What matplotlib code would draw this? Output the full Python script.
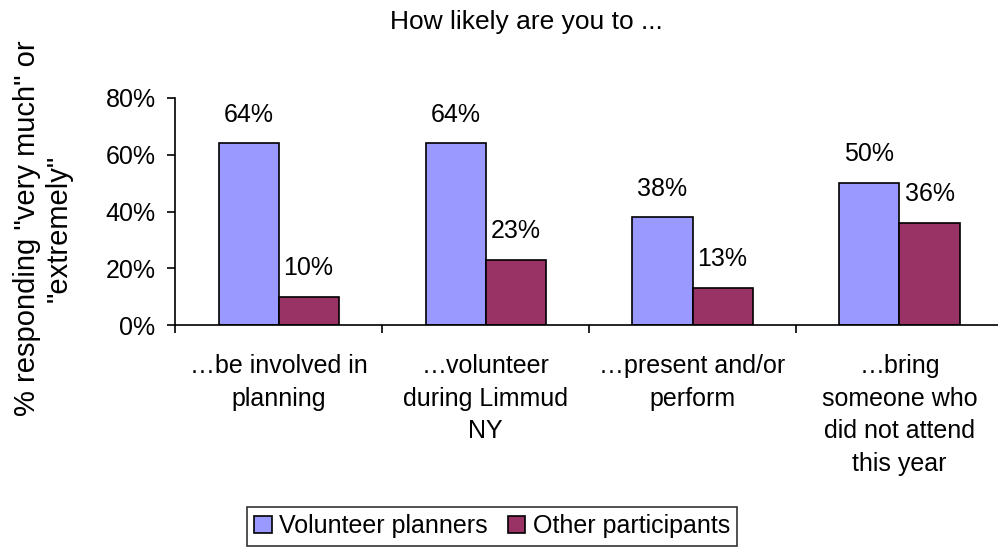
import matplotlib
matplotlib.use("Agg")
import matplotlib.pyplot as plt
import numpy as np

# Survey results: share answering "very much" or "extremely".
categories = ["\u2026be involved in\nplanning",
              "\u2026volunteer\nduring Limmud\nNY",
              "\u2026present and/or\nperform",
              "\u2026bring\nsomeone who\ndid not attend\nthis year"]
volunteer_planners = [64, 64, 38, 50]
other_participants = [10, 23, 13, 36]
series_names = ["Volunteer planners", "Other participants"]
y_ticks = [0, 20, 40, 60, 80]

plt.rcParams['font.family'] = ['Liberation Sans', 'DejaVu Sans']
plt.rcParams['font.size'] = 18

fig = plt.figure(figsize=(9.98, 5.48), dpi=100)
ax = fig.add_axes([0.1754, 0.4069, 0.8296, 0.4143])

x = np.arange(len(categories))
width = 0.29
b1 = ax.bar(x - width / 2, volunteer_planners, width, color="#9999FF",
            edgecolor="black", linewidth=1.2, label=series_names[0])
b2 = ax.bar(x + width / 2, other_participants, width, color="#993366",
            edgecolor="black", linewidth=1.2, label=series_names[1])
ax.bar_label(b1, labels=[f"{v}%" for v in volunteer_planners], padding=12)
ax.bar_label(b2, labels=[f"{v}%" for v in other_participants], padding=12)

ax.set_xlim(-0.5, len(categories) - 0.5)
ax.set_ylim(0, 80)
ax.set_yticks(y_ticks)
ax.set_yticklabels([f"{t}%" for t in y_ticks])
ax.tick_params(axis="y", length=6, width=1.2, pad=8, direction="out")

# category labels at centres, tick marks at the boundaries
ax.set_xticks(x)
ax.set_xticklabels(categories, linespacing=1.45)
ax.set_xticks(np.arange(len(categories) + 1) - 0.5, minor=True)
ax.tick_params(axis="x", which="major", length=0, pad=21)
ax.tick_params(axis="x", which="minor", length=6, width=1.2, direction="out")

for side in ["top", "right"]:
    ax.spines[side].set_visible(False)
for side in ["left", "bottom"]:
    ax.spines[side].set_linewidth(1.2)
ax.spines["bottom"].set_clip_on(False)

fig.text(0.527, 1 - 22 / 548, "How likely are you to ...", ha="center", va="center", fontsize=19)
fig.text(0.043, 1 - 228 / 548, "% responding \"very much\" or\n\"extremely\"",
         rotation=90, ha="center", va="center", linespacing=1.15, fontsize=21)

leg = fig.legend(loc="center", bbox_to_anchor=(0.493, 1 - 526 / 548), ncol=2,
                 frameon=True, fancybox=False, edgecolor="black",
                 handlelength=0.7, handleheight=0.7, handletextpad=0.3,
                 columnspacing=0.8, borderpad=0.3, borderaxespad=0)
leg.get_frame().set_linewidth(1.2)

fig.savefig("out.png", dpi=100)
